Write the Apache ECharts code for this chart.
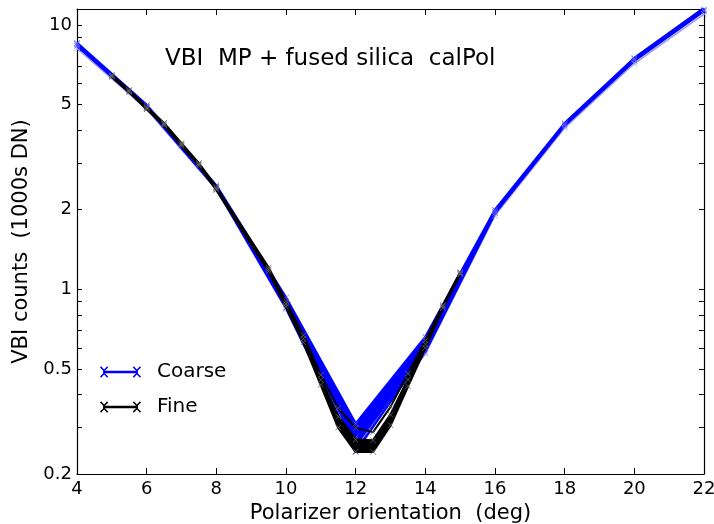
<!DOCTYPE html>
<html>
<head>
<meta charset="utf-8">
<script src="https://cdn.jsdelivr.net/npm/echarts@6/dist/echarts.min.js"></script>
<style>html,body{margin:0;padding:0;background:#fff}#c{width:714px;height:524px}</style>
</head>
<body>
<div id="c"></div>
<script>
// ---- data ----
var coarseX = [4, 6, 8, 10, 12, 14, 16, 18, 20, 22];
var coarseA = [8.55, 4.98, 2.47, 0.93, 0.31, 0.66, 2.00, 4.25, 7.50, 11.6];
var coarseB = [8.45, 4.93, 2.44, 0.89, 0.275, 0.62, 1.97, 4.21, 7.42, 11.45];
var coarseC = [8.35, 4.88, 2.41, 0.85, 0.243, 0.58, 1.94, 4.16, 7.32, 11.3];
var coarseD = [8.15, 4.80, 2.38, 0.84, 0.25, 0.57, 1.90, 4.08, 7.15, 11.0];

var fineX = [5, 5.5, 6, 6.5, 7, 7.5, 8, 9.5, 10, 10.5, 11, 11.5, 12, 12.5, 13, 13.5, 14, 14.5, 15];
var fineA = [6.47, 5.68, 4.90, 4.26, 3.57, 3.00, 2.44, 1.21, 0.90, 0.67, 0.474, 0.355, 0.299, 0.288, 0.359, 0.48, 0.64, 0.87, 1.16];
var fineB = [6.42, 5.62, 4.86, 4.21, 3.53, 2.97, 2.41, 1.19, 0.88, 0.65, 0.455, 0.33, 0.27, 0.268, 0.335, 0.455, 0.62, 0.86, 1.15];
var fineC = [6.37, 5.57, 4.81, 4.17, 3.49, 2.94, 2.38, 1.17, 0.86, 0.63, 0.435, 0.30, 0.243, 0.243, 0.306, 0.43, 0.60, 0.85, 1.14];

var xTicks = [4, 6, 8, 10, 12, 14, 16, 18, 20, 22];
var yLabels = [0.2, 0.5, 1, 2, 5, 10];
var yMinorTicks = [0.2, 0.3, 0.4, 0.5, 0.6, 0.7, 0.8, 0.9, 1, 2, 3, 4, 5, 6, 7, 8, 9, 10];

var titleText = 'VBI  MP + fused silica  calPol';
var xName = 'Polarizer orientation  (deg)';
var yName = 'VBI counts  (1000s DN)';

// ---- chart ----
var FONT = 'DejaVu Sans';
var xSym = 'path://M0,0.7 L0.7,0 L5,4.3 L9.3,0 L10,0.7 L5.7,5 L10,9.3 L9.3,10 L5,5.7 L0.7,10 L0,9.3 L4.3,5 Z';
var legendIcon = 'path://M4,4.8 L36,4.8 L36,7.2 L4,7.2 Z M0,1.5 L1,0.5 L4,3.5 L7,0.5 L8,1.5 L5,4.5 L5,7.5 L8,10.5 L7,11.5 L4,8.5 L1,11.5 L0,10.5 L3,7.5 L3,4.5 Z M32,1.5 L33,0.5 L36,3.5 L39,0.5 L40,1.5 L37,4.5 L37,7.5 L40,10.5 L39,11.5 L36,8.5 L33,11.5 L32,10.5 L35,7.5 L35,4.5 Z';

function pairs(xs, ys) { return xs.map(function (x, i) { return [x, ys[i]]; }); }

function mkSeries(name, xs, ys, color, width, symColor, z) {
  return {
    name: name, type: 'line', data: pairs(xs, ys),
    xAxisIndex: 0, yAxisIndex: 0,
    symbol: xSym, symbolSize: 6, showSymbol: true,
    lineStyle: { color: color, width: width },
    itemStyle: { color: symColor },
    z: z, silent: true, animation: false
  };
}

function mkBand(xs, up, lo, color, z) {
  return {
    type: 'custom', xAxisIndex: 0, yAxisIndex: 0, z: z, silent: true, animation: false,
    data: xs.map(function (x, i) { return [x, up[i], lo[i]]; }),
    encode: { x: 0, y: [1, 2] },
    clip: true,
    renderItem: function (params, api) {
      if (params.dataIndexInside !== 0) return null;
      var n = params.dataInsideLength, pts = [], i;
      for (i = 0; i < n; i++) pts.push(api.coord([api.value(0, i), api.value(1, i)]));
      for (i = n - 1; i >= 0; i--) pts.push(api.coord([api.value(0, i), api.value(2, i)]));
      return { type: 'polygon', shape: { points: pts }, style: { fill: color, stroke: color, lineWidth: 1 } };
    }
  };
}

var series = [
  mkBand(coarseX, coarseA, coarseC, '#0000ff', 2),
  mkSeries('Coarse', coarseX, coarseA, '#0000ff', 2.5, '#5a5aff', 2),
  mkSeries('Coarse', coarseX, coarseD, '#9a9aff', 1.5, '#9a9aff', 2),
  mkSeries('Coarse', coarseX, coarseB, '#0000ff', 2.5, '#5a5aff', 2),
  mkSeries('Coarse', coarseX, coarseC, '#0000ff', 2.5, '#5a5aff', 2),
  mkBand(fineX, fineB, fineC, '#000000', 3),
  mkSeries('Fine', fineX, fineA, '#000000', 2, '#666666', 3),
  mkSeries('Fine', fineX, fineB, '#000000', 2.5, '#666666', 3),
  mkSeries('Fine', fineX, fineC, '#000000', 2.5, '#666666', 3)
];

var axisLineStyle = { show: true, lineStyle: { color: '#000', width: 1.2 } };

var option = {
  backgroundColor: '#fff',
  animation: false,
  textStyle: { fontFamily: FONT },
  title: {
    text: titleText, left: 160, top: 43,
    textStyle: { fontFamily: FONT, fontSize: 23, fontWeight: 'normal', color: '#000' }
  },
  legend: {
    orient: 'vertical', left: 95, top: 357, itemGap: 15,
    itemWidth: 41, itemHeight: 12, icon: legendIcon,
    data: [
      { name: 'Coarse', itemStyle: { color: '#0000ff' } },
      { name: 'Fine', itemStyle: { color: '#000000' } }
    ],
    textStyle: { fontFamily: FONT, fontSize: 20, color: '#000', padding: [0, 0, 0, 11] },
    selectedMode: false
  },
  grid: { left: 77, right: 10, top: 9, bottom: 50, containLabel: false, outerBoundsMode: 'none' },
  xAxis: [{
    type: 'value', min: 4, max: 22, interval: 2, position: 'bottom',
    name: xName, nameLocation: 'middle', nameGap: 27,
    nameTextStyle: { fontFamily: FONT, fontSize: 21, color: '#000' },
    axisLine: axisLineStyle,
    axisTick: { inside: true, length: 6, lineStyle: { color: '#000' } },
    axisLabel: { fontFamily: FONT, fontSize: 18, color: '#000', margin: 6,
      customValues: xTicks },
    splitLine: { show: false }
  }, {
    type: 'value', min: 4, max: 22, interval: 2, position: 'top',
    axisLine: axisLineStyle,
    axisTick: { inside: true, length: 6, lineStyle: { color: '#000' } },
    axisLabel: { show: false }, splitLine: { show: false }
  }],
  yAxis: [{
    type: 'log', logBase: 10, min: 0.2, max: 11.5, position: 'left',
    name: yName, nameLocation: 'middle', nameGap: 41,
    nameTextStyle: { fontFamily: FONT, fontSize: 21, color: '#000' },
    axisLine: axisLineStyle,
    axisTick: { inside: true, length: 5, lineStyle: { color: '#000' }, customValues: yMinorTicks },
    axisLabel: { fontFamily: FONT, fontSize: 18, color: '#000', margin: 5, customValues: yLabels },
    splitLine: { show: false }
  }, {
    type: 'log', logBase: 10, min: 0.2, max: 11.5, position: 'right',
    axisLine: axisLineStyle,
    axisTick: { inside: true, length: 5, lineStyle: { color: '#000' }, customValues: yMinorTicks },
    axisLabel: { show: false }, splitLine: { show: false }
  }],
  series: series
};

var chart = echarts.init(document.getElementById('c'), null, { renderer: 'canvas' });
chart.setOption(option);
</script>
</body>
</html>
